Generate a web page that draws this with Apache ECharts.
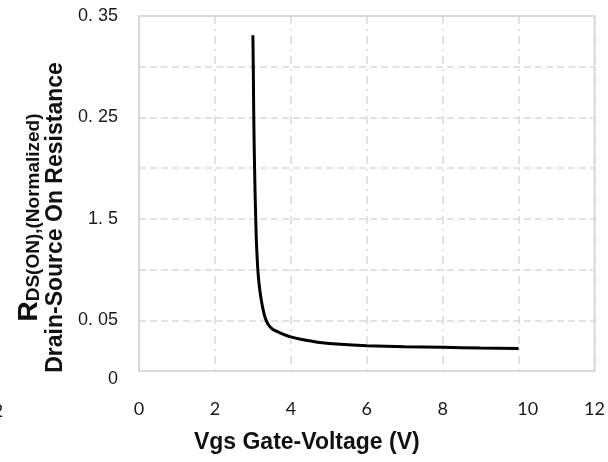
<!DOCTYPE html>
<html>
<head>
<meta charset="utf-8">
<script src="https://cdn.jsdelivr.net/npm/echarts@6/dist/echarts.min.js"></script>
<style>
  html, body { margin: 0; padding: 0; background: #fff; }
  #chart { width: 608px; height: 462px; }
</style>
</head>
<body>
<div id="chart"></div>
<script>
// Vgs (V) and normalized Rds(on)
var vgs = [3.0, 3.01, 3.02, 3.03, 3.045, 3.06, 3.075, 3.09, 3.11, 3.13, 3.16, 3.2, 3.25, 3.32, 3.4, 3.5, 3.6, 3.71, 3.85, 4.0, 4.2, 4.4, 4.76, 5.3, 6, 7, 8, 9, 10];
var rds = [0.331, 0.30, 0.262, 0.232, 0.199, 0.172, 0.150, 0.130, 0.113, 0.100, 0.087, 0.075, 0.064, 0.053, 0.046, 0.0418, 0.0395, 0.0377, 0.0355, 0.0337, 0.0318, 0.0303, 0.0281, 0.0263, 0.0250, 0.0240, 0.0233, 0.0227, 0.0222];

// tick labels as printed on the original (0.15 is printed "1. 5")
var yTickValues = [0, 0.05, 0.15, 0.25, 0.35];
var yTickLabels = ['0', '0. 05', '1. 5', '0. 25', '0. 35'];
var xTickLabels = ['0', '2', '4', '6', '8', '10', '12'];

var points = vgs.map(function (v, i) { return [v, rds[i]]; });

var myChart = echarts.init(document.getElementById('chart'));

var option = {
  animation: false,
  grid: {
    left: 139, top: 16, right: 13, bottom: 91,
    show: true,
    borderColor: '#d9d9d9',
    borderWidth: 2
  },
  xAxis: {
    type: 'value',
    min: 0, max: 12, interval: 2,
    axisLine: { show: false },
    axisTick: { show: false },
    splitLine: {
      show: true,
      lineStyle: { color: '#d9d9d9', width: 1.5, type: [8, 5, 2, 5] }
    },
    axisLabel: {
      margin: 29,
      fontFamily: 'Lato',
      fontSize: 18,
      color: '#1a1a1a',
      formatter: function (v) {
        var s = xTickLabels[Math.round(v / 2)];
        return v === 10 ? '{o|' + s + '}' : s;
      },
      rich: { o: { padding: [0, 0, 0, 18], fontFamily: 'Lato', fontSize: 18, color: '#1a1a1a' } }
    },
    name: 'Vgs Gate-Voltage (V)',
    nameLocation: 'middle',
    nameGap: 60,
    nameTextStyle: {
      fontFamily: 'Liberation Sans',
      fontWeight: 'bold',
      fontSize: 23,
      color: '#111',
      padding: [0, 120, 0, 0]
    }
  },
  yAxis: {
    type: 'value',
    min: 0, max: 0.35, interval: 0.05,
    axisLine: { show: false },
    axisTick: { show: false },
    splitLine: {
      show: true,
      lineStyle: { color: '#d9d9d9', width: 1.5, type: [7, 4] }
    },
    axisLabel: {
      margin: 21,
      fontFamily: 'Liberation Sans',
      fontSize: 18,
      color: '#1a1a1a',
      formatter: function (v) {
        for (var i = 0; i < yTickValues.length; i++) {
          if (Math.abs(v - yTickValues[i]) < 1e-6) {
            return i === 0 ? '{z|' + yTickLabels[i] + '}' : yTickLabels[i];
          }
        }
        return '';
      },
      rich: { z: { padding: [16, 0, 0, 0], fontFamily: 'Liberation Sans', fontSize: 18, color: '#1a1a1a' } }
    },
    name: '{r|R}{s|DS(ON),(Normalized)}\n{t|Drain-Source On Resistance}',
    nameLocation: 'middle',
    nameRotate: 90,
    nameGap: 66,
    nameTextStyle: {
      padding: [0, 48, 0, 0],
      rich: {
        r: { fontFamily: 'Liberation Sans', fontWeight: 'bold', fontSize: 28, color: '#111', lineHeight: 28, verticalAlign: 'bottom' },
        s: { fontFamily: 'Liberation Sans', fontWeight: 'bold', fontSize: 19, color: '#111', lineHeight: 14, verticalAlign: 'bottom' },
        t: { fontFamily: 'Liberation Sans', fontWeight: 'bold', fontSize: 23, color: '#111', lineHeight: 25 }
      }
    }
  },
  graphic: [
    {
      type: 'text',
      left: -14,
      top: 402,
      style: { text: '-2', fontFamily: 'Lato', fontSize: 18, fill: '#1a1a1a' }
    }
  ],
  series: [
    {
      type: 'line',
      data: points,
      showSymbol: false,
      smooth: 0.2,
      lineStyle: { color: '#000', width: 3 }
    }
  ]
};

myChart.setOption(option);
</script>
</body>
</html>
